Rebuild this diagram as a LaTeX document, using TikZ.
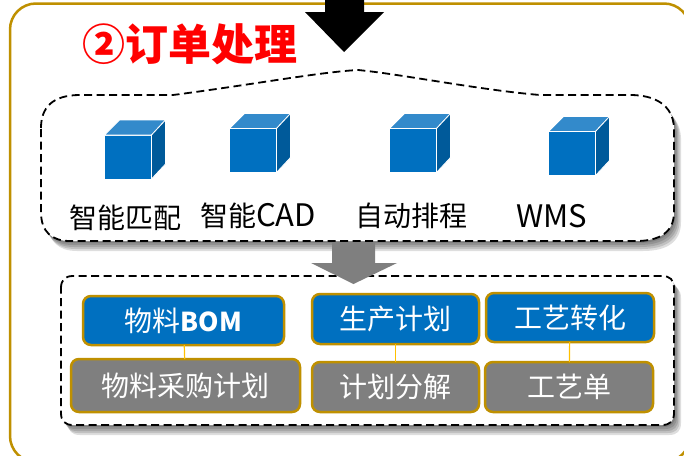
\documentclass[tikz,border=0pt]{standalone}
\usepackage{fontspec}
\setmainfont{Noto Sans CJK SC}
\usepackage{xcolor}
\usetikzlibrary{calc}
\definecolor{framegold}{RGB}{191,144,0}
\definecolor{linkyellow}{RGB}{255,192,0}
\definecolor{cubefront}{RGB}{0,112,192}
\definecolor{cubetop}{RGB}{51,138,203}
\definecolor{cubeside}{RGB}{0,90,154}
\definecolor{arrowgray}{RGB}{127,127,127}
\newcommand{\cloudoutline}{(41,128) .. controls (41,108) and (52,95) .. (80,95) -- (173,95) .. controls (250,85) and (320,72) .. (358,70) .. controls (400,74) and (480,90) .. (540,95) -- (630,95) .. controls (655,95) and (673,105) .. (674,128) -- (674,212) .. controls (674,232) and (660,241) .. (636,241) -- (70,241) .. controls (52,241) and (41,232) .. (41,212) -- cycle}
\newcommand{\planoutline}{(61,288) .. controls (61,280) and (65,276) .. (73,276) -- (662,276) .. controls (670,276) and (674,280) .. (674,288) -- (674,413) .. controls (674,421) and (670,425) .. (662,425) -- (73,425) .. controls (65,425) and (61,421) .. (61,413) -- cycle}
\tikzset{
    dashline/.style={
        draw=black,
        line width=1.8pt,
        dash pattern=on 8pt off 4.5pt,
        fill=white
    },
    softshadow/.style={
        fill=black,
        opacity=0.13
    },
    cubeface/.style={
        rectangle,
        draw=white,
        line width=0.8pt,
        fill=cubefront,
        minimum width=47pt,
        minimum height=44pt,
        inner sep=0pt,
        outer sep=0pt
    },
    toolname/.style={
        font=\fontsize{28}{30}\selectfont,
        text=black,
        inner sep=0pt
    },
    planblock/.style={
        rectangle,
        rounded corners=8pt,
        draw=framegold,
        line width=2.5pt,
        fill=cubefront,
        text=white,
        inner sep=0pt,
        outer sep=0pt,
        font=\fontsize{28}{30}\selectfont
    },
    workblock/.style={
        planblock,
        fill=arrowgray
    },
    link/.style={
        draw=linkyellow,
        line width=1.2pt
    }
}
\begin{document}
\begin{tikzpicture}[x=1pt, y=-1pt]
\useasboundingbox (0,0) rectangle (684,455);
\clip (0,0) rectangle (684,455);
\fill[white] (0,0) rectangle (684,455);

% Outer frame
\draw[framegold, line width=2.5pt, rounded corners=26pt] (10,3.5) rectangle (690,462);

% Incoming arrow
\fill[black] (325,0) -- (364,0) -- (364,12) -- (384,12) -- (344,52) -- (305,12) -- (325,12) -- cycle;

% Title
\node[text=red, inner sep=0pt, font=\fontsize{43}{45}\selectfont\bfseries] (title) at (190,44) {②订单处理};

% Tool cloud
\foreach \d in {10,8,6,4,2} {
    \fill[softshadow, shift={(\d*0.7,\d)}] \cloudoutline;
}
\path[dashline] \cloudoutline;

% Cubes
\node[cubeface] (cubematch) at (128,157) {};
\node[cubeface] (cubecad) at (253,150.5) {};
\node[cubeface] (cubesched) at (413,150.5) {};
\node[cubeface] (cubewms) at (572,153.5) {};
\foreach \c in {cubematch, cubecad, cubesched, cubewms} {
    \draw[white, line width=0.8pt, fill=cubetop] (\c.north west) -- ++(15,-15) -- ($(\c.north east)+(14,-15)$) -- (\c.north east) -- cycle;
    \draw[white, line width=0.8pt, fill=cubeside] (\c.north east) -- ++(14,-15) -- ($(\c.south east)+(14,-15)$) -- (\c.south east) -- cycle;
}

% Tool names
\node[toolname] (namematch) at (125,218) {智能匹配};
\node[toolname] (namecad) at (258,216) {智能{\fontsize{31}{30}\selectfont CAD}};
\node[toolname] (namesched) at (411,216) {自动排程};
\node[toolname, font=\fontsize{31}{30}\selectfont] (namewms) at (552,216) {WMS};

% Plan box
\foreach \d in {10,8,6,4,2} {
    \fill[softshadow, shift={(\d*0.7,\d)}] \planoutline;
}
\path[dashline] \planoutline;

% Down arrow between the two groups
\fill[arrowgray] (332,243) -- (375,243) -- (375,263) -- (397,263) -- (353.5,284) -- (311,263) -- (332,263) -- cycle;

% Blue row
\node[planblock, minimum width=201pt, minimum height=49pt] (bom) at (183.5,320.5) {物料{\fontsize{26}{30}\selectfont\bfseries BOM}};
\node[planblock, minimum width=167pt, minimum height=50pt] (prodplan) at (395.5,319) {生产计划};
\node[planblock, minimum width=168pt, minimum height=49pt] (craftconv) at (570,317.5) {工艺转化};

% Gray row
\node[workblock, minimum width=229pt, minimum height=53pt] (purchase) at (185.5,385.5) {物料采购计划};
\node[workblock, minimum width=167pt, minimum height=50pt] (split) at (395.5,387) {计划分解};
\node[workblock, minimum width=168pt, minimum height=50pt] (craftsheet) at (569,387) {工艺单};

% Links
\draw[link] (bom) -- (purchase);
\draw[link] (prodplan) -- (split);
\draw[link] (craftconv) -- (craftsheet);

\end{tikzpicture}
\end{document}
